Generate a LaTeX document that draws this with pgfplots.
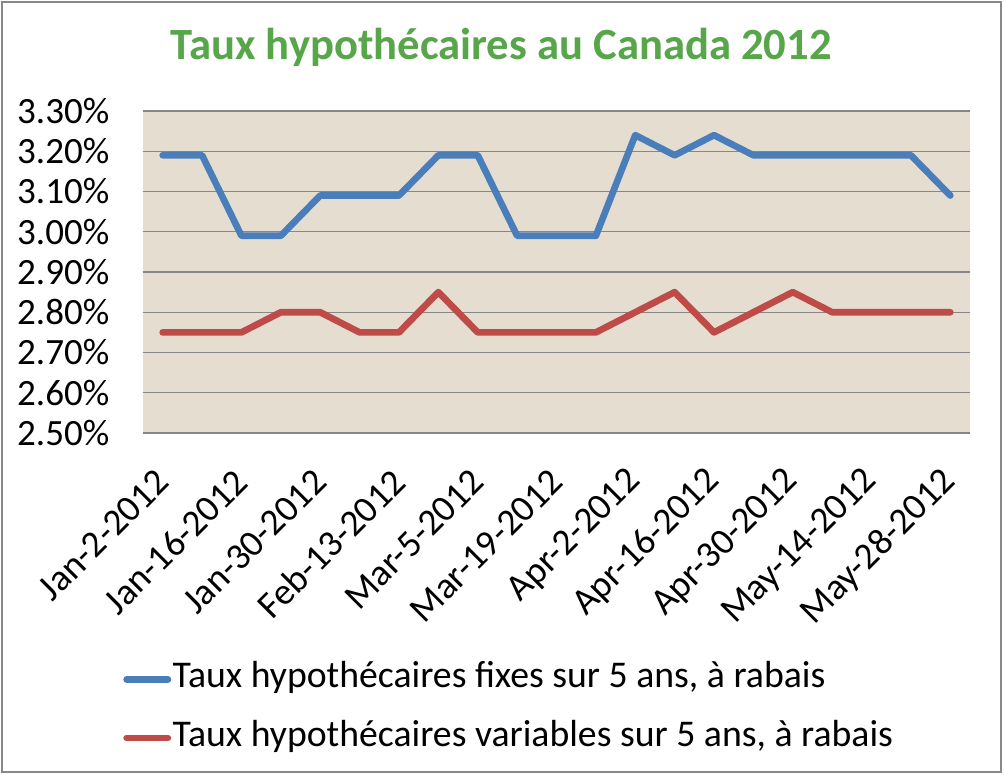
\documentclass[border=0pt]{standalone}
\usepackage{pgfplots}
\pgfplotsset{compat=1.18}
\usepackage{fontspec}
\setmainfont{Carlito}
\definecolor{bgbeige}{RGB}{229,221,207}
\definecolor{gridgray}{RGB}{135,135,135}
\definecolor{lblue}{RGB}{74,126,187}
\definecolor{lred}{RGB}{190,75,72}
\definecolor{tgreen}{RGB}{88,166,74}
\definecolor{framegray}{RGB}{136,136,136}
\begin{document}
\begin{tikzpicture}
\useasboundingbox (0,0) rectangle (753pt,581.25pt);
\draw[framegray, line width=1.5pt] (1.5pt,2pt) rectangle (750.5pt,579.5pt);
\begin{axis}[
  at={(107.25pt,256.5pt)}, anchor=south west,
  scale only axis, width=620.25pt, height=241.5pt,
  xmin=-0.5, xmax=20.5, ymin=2.5, ymax=3.3,
  ytick={2.5,2.6,...,3.31},
  xtick={0,2,...,20},
  xticklabels={Jan-2-2012,Jan-16-2012,Jan-30-2012,Feb-13-2012,Mar-5-2012,Mar-19-2012,Apr-2-2012,Apr-16-2012,Apr-30-2012,May-14-2012,May-28-2012},
  yticklabel={\pgfmathprintnumber[fixed,fixed zerofill,precision=2]{\tick}\%},
  /pgf/number format/assume math mode=true,
  major tick length=0pt,
  axis line style={draw=none},
  ymajorgrids, major grid style={draw=gridgray, line width=0.9pt},
  axis background/.style={fill=bgbeige},
  yticklabel style={font=\fontsize{27.8}{33}\selectfont, inner sep=0pt, anchor=east, xshift=-25pt},
  xticklabel style={font=\fontsize{28}{33}\selectfont, inner sep=0pt, yshift=-32pt, rotate=45, anchor=east},
  title={Taux hypothécaires au Canada 2012},
  title style={at={(axis description cs:0.433,1.172)}, anchor=center, font=\fontsize{33.5}{40}\selectfont\bfseries, text=tgreen},
  legend style={at={(axis description cs:-0.029,-0.70)}, anchor=north west, draw=none, fill=none,
    font=\fontsize{28.3}{33}\selectfont, row sep=17pt, column sep=0pt,
    nodes={inner sep=0pt, text height=20pt, text depth=7pt}},
  legend cell align=left,
  legend image code/.code={\draw[#1] (0pt,0pt) -- (31pt,0pt);},
  clip=false,
]
\addplot[lblue, line width=5pt, line join=round, line cap=round] coordinates {
(0,3.19)(1,3.19)(2,2.99)(3,2.99)(4,3.09)(5,3.09)(6,3.09)(7,3.19)(8,3.19)(9,2.99)(10,2.99)
(11,2.99)(12,3.24)(13,3.19)(14,3.24)(15,3.19)(16,3.19)(17,3.19)(18,3.19)(19,3.19)(20,3.09)};
\addlegendentry{\kern1pt Taux hypothécaires fixes sur 5 ans, à rabais}
\addplot[lred, line width=5pt, line join=round, line cap=round] coordinates {
(0,2.75)(1,2.75)(2,2.75)(3,2.80)(4,2.80)(5,2.75)(6,2.75)(7,2.85)(8,2.75)(9,2.75)(10,2.75)
(11,2.75)(12,2.80)(13,2.85)(14,2.75)(15,2.80)(16,2.85)(17,2.80)(18,2.80)(19,2.80)(20,2.80)};
\addlegendentry{\kern1pt Taux hypothécaires variables sur 5 ans, à rabais}
\end{axis}
\end{tikzpicture}
\end{document}
